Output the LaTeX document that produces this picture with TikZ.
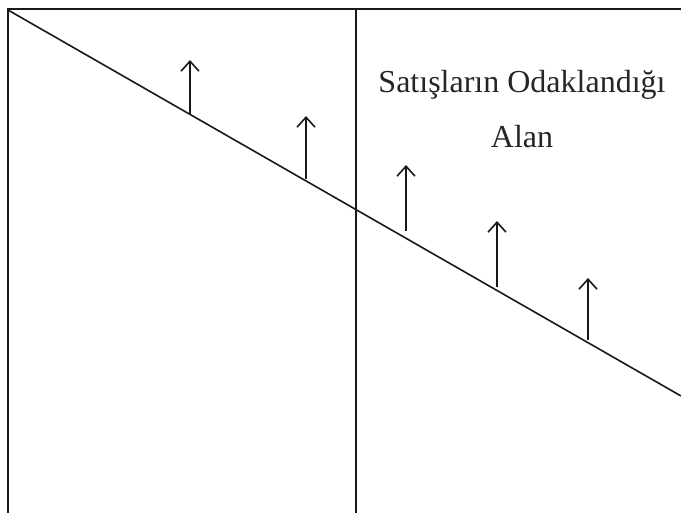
\documentclass[tikz,border=0pt]{standalone}
\usepackage{fontspec}
\setmainfont{Liberation Serif}
\usepackage{tikz}
\usetikzlibrary{arrows.meta,positioning}

\tikzset{
    frame line/.style={line width=1.6pt, black!90},
    rise arrow/.style={line width=1.6pt, black!90, -{Straight Barb[length=10pt,width=18pt,line width=1.6pt]}},
    area label/.style={inner sep=0pt, align=center, font=\fontsize{32}{55}\selectfont, text=black!85}
}

\begin{document}
\begin{tikzpicture}[x=1pt,y=-1pt]
\useasboundingbox (0,0) rectangle (681,513);
% frame and divider
\coordinate (topleft) at (8,9);
\coordinate (bottomleft) at (8,513);
\coordinate (topright) at (681,9);
\coordinate (midtop) at (356,9);
\coordinate (midbottom) at (356,513);
\draw[frame line] (bottomleft) -- (topleft) -- (topright);
\draw[frame line] (midtop) -- (midbottom);
% falling line
\coordinate (trendstart) at (8,10);
\coordinate (trendend) at (681,396);
\draw[frame line] (trendstart) -- (trendend);
% arrows
\foreach \n/\x/\yb/\yt in {1/190/114/60, 2/306/179/116, 3/406/231/165, 4/497/287/221, 5/588/340/278} {
    \coordinate (base\n) at (\x,\yb);
    \coordinate (tip\n) at (\x,\yt);
    \draw[rise arrow] (base\n) -- (tip\n);
}
\node[area label, anchor=north] (focus) at (522,70) {Satışların Odaklandığı\\Alan};
\end{tikzpicture}
\end{document}
